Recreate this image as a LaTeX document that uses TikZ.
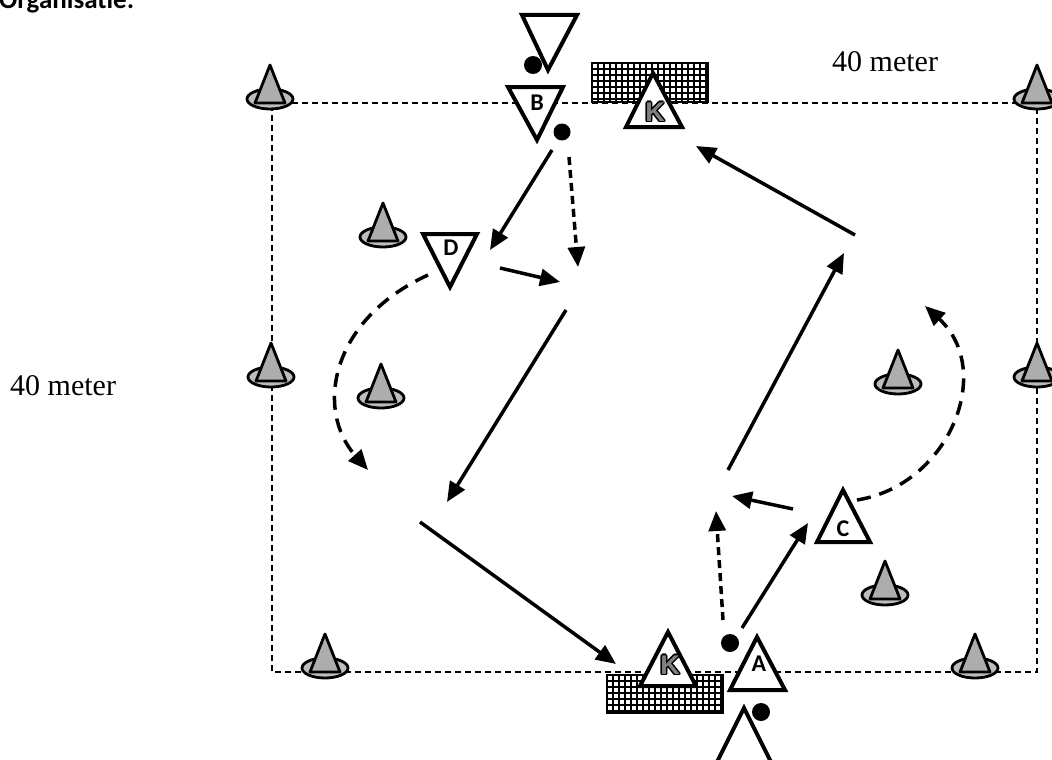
\documentclass[tikz,border=0pt]{standalone}
\usepackage{fontspec}
\setmainfont{Liberation Serif}
\newfontfamily\calfont{Carlito}
\newfontfamily\arialfont{Liberation Sans}
\usetikzlibrary{arrows.meta}
\definecolor{conelight}{gray}{0.74}
\definecolor{conedark}{gray}{0.68}
\definecolor{kgray}{gray}{0.5}
\tikzset{
  fieldline/.style={line width=2.5pt, dash pattern=on 6pt off 4pt},
  pass/.style={line width=3.5pt, -{Triangle[length=20pt,width=17pt]}},
  run/.style={pass, dash pattern=on 14pt off 9pt},
  shortrun/.style={pass, dash pattern=on 8pt off 5pt},
  player/.style={draw, fill=white, line width=4pt, line join=miter},
  lbl/.style={font=\calfont\bfseries\fontsize{24}{24}\selectfont, inner sep=0pt},
  klbl/.style={font=\arialfont\bfseries\fontsize{27}{27}\selectfont, inner sep=0pt},
  ballstyle/.style={fill=black},
  meter/.style={font=\fontsize{30}{30}\selectfont, inner sep=0pt, anchor=base west},
  gridline/.style={line width=1.3pt},
  cone/.pic={
    \draw[line width=2.8pt, fill=conelight] (0,0) ellipse (23pt and 10pt);
    \draw[line width=2.8pt, fill=conedark, line join=round] (0,-34) -- (-15,4) -- (15,4) -- cycle;
  }
}
\begin{document}
\begin{tikzpicture}[x=1pt,y=-1pt]
\useasboundingbox (0,0) rectangle (1052,760);
\clip (0,0) rectangle (1052,760);
\fill[white] (0,0) rectangle (1052,760);

% title (cut at top)
\node[font=\calfont\bfseries\fontsize{27}{27}\selectfont, inner sep=0pt, anchor=base west] (title) at (-1,9) {Organisatie:};

% goals (nets)
\foreach \x in {592,598,...,710} \draw[gridline] (\x,63) -- (\x,102);
\foreach \y in {63,69,...,102} \draw[gridline] (592,\y) -- (708,\y);
\draw[line width=1.6pt] (592,63) rectangle (708,102);
\foreach \x in {607,613,...,725} \draw[gridline] (\x,675) -- (\x,713);
\foreach \y in {675,681,...,713} \draw[gridline] (607,\y) -- (723,\y);
\draw[line width=1.6pt] (607,675) rectangle (723,713);

% field
\coordinate (f1) at (272,103);
\coordinate (f2) at (1037,103);
\coordinate (f3) at (1037,672);
\coordinate (f4) at (272,672);
\draw[fieldline] (f1) -- (f2) -- (f3) -- (f4) -- cycle;

% cones
\foreach \p in {(270,99),(1037,99),(271,377),(1037,377),(325,668),(975,668),(383,237),(381,398),(898,384),(885,595)}
  \pic at \p {cone};

% arrow end points
\coordinate (a1s) at (552,150); \coordinate (a1e) at (490,250);
\coordinate (a2s) at (569,157); \coordinate (a2e) at (578,267);
\coordinate (a3s) at (500,268); \coordinate (a3e) at (560,282);
\coordinate (a4s) at (566,310); \coordinate (a4e) at (447,502);
\coordinate (a5s) at (420,522); \coordinate (a5e) at (616,664);
\coordinate (a6s) at (428,275); \coordinate (a6e) at (368,470);
\coordinate (a7s) at (723,620); \coordinate (a7e) at (716,511);
\coordinate (a8s) at (742,628); \coordinate (a8e) at (808,523);
\coordinate (a9s) at (793,509); \coordinate (a9e) at (732,496);
\coordinate (a10s) at (728,470); \coordinate (a10e) at (844,253);
\coordinate (a11s) at (855,235); \coordinate (a11e) at (696,146);
\coordinate (a12s) at (857,500); \coordinate (a12e) at (925,306);

\draw[pass] (a1s) -- (a1e);
\draw[shortrun] (a2s) -- (a2e);
\draw[pass] (a3s) -- (a3e);
\draw[pass] (a4s) -- (a4e);
\draw[pass] (a5s) -- (a5e);
\draw[run] (a6s) .. controls (330,320) and (315,410) .. (a6e);
\draw[shortrun] (a7s) -- (a7e);
\draw[pass] (a8s) -- (a8e);
\draw[pass] (a9s) -- (a9e);
\draw[pass] (a10s) -- (a10e);
\draw[pass] (a11s) -- (a11e);
\draw[run] (a12s) .. controls (950,485) and (995,370) .. (a12e);

% players
\draw[player] (522,15) -- (577,15) -- (548,70) -- cycle;
\draw[player] (508,87) -- (563,87) -- (537,140) -- cycle;
\node[lbl] (lB) at (537,103) {B};
\draw[player] (423,234) -- (477,234) -- (450,287) -- cycle;
\node[lbl] (lD) at (451,248) {D};
\draw[player] (843,490) -- (870,542) -- (817,542) -- cycle;
\node[lbl] (lC) at (843,529) {C};
\draw[player] (757,637) -- (785,690) -- (730,690) -- cycle;
\node[lbl] (lA) at (759,664) {A};
\draw[player] (744,708) -- (772,764) -- (716,764) -- cycle;

% keepers
\draw[player] (653,73) -- (682,127) -- (626,127) -- cycle;
\coordinate (kt) at (655,112);
\foreach \a in {0,45,...,315} \node[klbl, text=black] at ([shift={(\a:1.5pt)}]kt) {K};
\node[klbl, text=kgray] (ktop) at (kt) {K};
\draw[player] (668,632) -- (696,686) -- (640,686) -- cycle;
\coordinate (kb) at (670,665);
\foreach \a in {0,45,...,315} \node[klbl, text=black] at ([shift={(\a:1.5pt)}]kb) {K};
\node[klbl, text=kgray] (kbot) at (kb) {K};

% balls
\fill[ballstyle] (533,65) circle (9pt);
\fill[ballstyle] (562,132) circle (8.5pt);
\fill[ballstyle] (730,643) circle (9pt);
\fill[ballstyle] (761,712) circle (9pt);

% texts
\node[meter] (mtop) at (832,71) {40 meter};
\node[meter] (mleft) at (10,395) {40 meter};
\end{tikzpicture}
\end{document}
